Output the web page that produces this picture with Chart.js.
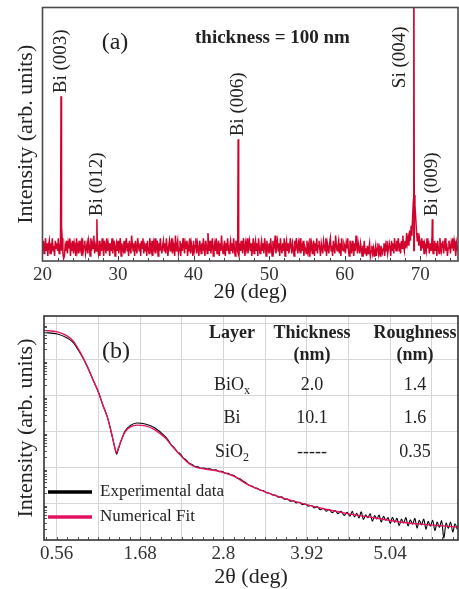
<!DOCTYPE html>
<html>
  <head>
    <title>Bi film XRD / XRR</title>
    <script src="https://cdn.jsdelivr.net/npm/chart.js"></script>
    <style>
      body { margin: 0; background: #fff; }
      #wrap { position: relative; width: 459px; height: 589px; }
      #xrdChart { position: absolute; left: 0; top: 0; }
      #xrrChart { position: absolute; left: 0; top: 303px; }
    </style>
  </head>
  <body>
    <div id="wrap">
      <canvas id="xrdChart" width="459" height="303"></canvas>
      <canvas id="xrrChart" width="459" height="286"></canvas>
    </div>

    <script type="text/javascript">
      // ---- panel (a): XRD, 2theta from 20 to 75 in 0.1 deg steps (one row per degree) ----
      const xrdStart = 20;
      const xrdStep = 0.1;
      const xrdCounts = [
        5, 8, 3, 6, 9, 4, 7, 2, 6, 8,
        3, 7, 5, 9, 4, 6, 2, 8, 5, 7,
        4, 9, 3, 6, 7, 13, 9, 3, 1, 2,
        6, 4, 8, 3, 7, 5, 9, 2, 6, 4,
        8, 3, 7, 5, 2, 9, 4, 6, 3, 8,
        5, 7, 2, 9, 4, 6, 8, 3, 5, 7,
        3, 8, 6, 2, 9, 4, 7, 5, 10, 3,
        6, 4, 7, 5, 3, 8, 2, 7, 4, 9,
        5, 2, 8, 6, 3, 9, 4, 7, 5, 2,
        7, 4, 9, 3, 6, 8, 2, 5, 7, 4,
        8, 3, 6, 9, 2, 7, 5, 4, 8, 3,
        6, 9, 4, 7, 2, 8, 5, 3, 10, 6,
        4, 7, 2, 8, 5, 3, 9, 6, 4, 7,
        2, 8, 5, 9, 3, 6, 4, 7, 2, 8,
        5, 3, 9, 6, 4, 8, 2, 7, 5, 9,
        3, 6, 8, 2, 7, 4, 9, 5, 3, 6,
        8, 4, 7, 3, 9, 5, 2, 6, 8, 4,
        6, 9, 3, 7, 5, 2, 10, 4, 6, 8,
        3, 5, 8, 2, 7, 4, 9, 6, 3, 7,
        5, 8, 2, 6, 4, 9, 3, 7, 5, 2,
        8, 4, 6, 9, 3, 7, 5, 2, 8, 6,
        3, 7, 4, 9, 5, 2, 8, 6, 3, 11,
        7, 4, 8, 3, 6, 9, 2, 5, 7, 4,
        9, 3, 6, 8, 2, 7, 4, 10, 5, 3,
        6, 8, 2, 7, 4, 9, 5, 3, 6, 8,
        4, 7, 3, 9, 5, 2, 8, 6, 4, 3,
        2, 7, 4, 8, 5, 3, 9, 6, 2, 7,
        5, 9, 3, 6, 8, 4, 7, 2, 5, 9,
        3, 6, 8, 4, 7, 2, 9, 5, 3, 6,
        8, 4, 7, 3, 9, 6, 2, 8, 5, 4,
        7, 3, 9, 5, 2, 8, 4, 6, 10, 3,
        6, 8, 4, 7, 2, 9, 5, 3, 7, 4,
        9, 2, 6, 8, 4, 7, 3, 5, 9, 6,
        3, 7, 5, 2, 8, 4, 9, 6, 3, 7,
        5, 9, 3, 7, 4, 8, 2, 6, 5, 3,
        8, 4, 6, 2, 9, 5, 7, 3, 6, 8,
        2, 7, 4, 9, 3, 6, 8, 5, 2, 7,
        5, 3, 8, 6, 4, 9, 2, 7, 5, 3,
        7, 9, 4, 6, 2, 8, 5, 3, 10, 6,
        4, 6, 8, 3, 7, 2, 9, 5, 4, 7,
        6, 3, 7, 5, 9, 4, 2, 8, 6, 3,
        8, 5, 2, 7, 4, 10, 6, 3, 7, 5,
        3, 7, 5, 2, 6, 4, 8, 3, 5, 2,
        6, 3, 5, 7, 2, 4, 6, 3, 5, 2,
        4, 6, 2, 5, 7, 3, 5, 2, 6, 4,
        3, 5, 7, 2, 6, 4, 8, 3, 5, 7,
        5, 2, 8, 4, 7, 3, 9, 6, 4, 8,
        6, 9, 4, 7, 3, 8, 5, 10, 6, 4,
        8, 5, 11, 7, 9, 6, 12, 8, 14, 10,
        18, 24, 26, 22, 17, 12, 8, 11, 6, 9,
        7, 4, 9, 5, 8, 3, 7, 6, 4, 9,
        5, 8, 3, 7, 4, 6, 9, 3, 5, 8,
        4, 7, 2, 8, 5, 3, 9, 6, 4, 7,
        8, 3, 6, 9, 4, 7, 2, 5, 8, 6,
        3, 7, 5, 9, 4, 8, 6, 2, 7, 5,
        6
      ];
      const xrdPeakAngle = [22.45, 27.2, 45.9, 69.15, 71.6];
      const xrdPeakHeight = [65, 16.5, 48, 140, 16.5];
      const xrdPeakNames = ["Bi (003)", "Bi (012)", "Bi (006)", "Si (004)", "Bi (009)"];
      const xrdTicks = [20, 30, 40, 50, 60, 70];

      // ---- panel (b): XRR, log10 of intensity ----
      const xrrFitAngle = [0.39, 0.57, 0.70, 0.78, 0.875, 0.97, 1.05, 1.12, 1.18, 1.24,
        1.28, 1.32, 1.345, 1.365, 1.39, 1.43, 1.48, 1.55, 1.64, 1.75,
        1.88, 2.02, 2.11, 2.22, 2.31, 2.42, 2.55, 2.69, 2.82, 2.96,
        3.09, 3.29, 3.56, 3.83, 4.16, 4.50, 4.84, 5.17, 5.57, 5.95];
      const xrrFitLog = [5.82, 5.78, 5.67, 5.53, 5.22, 4.83, 4.44, 4.11, 3.75, 3.42,
        3.11, 2.75, 2.53, 2.42, 2.56, 2.78, 3.00, 3.14, 3.19, 3.17,
        3.06, 2.83, 2.61, 2.36, 2.17, 2.03, 1.97, 1.93, 1.86, 1.75,
        1.58, 1.39, 1.19, 1.03, 0.86, 0.72, 0.61, 0.50, 0.42, 0.36];

      const xrrExpAngle = [0.39, 0.57, 0.70, 0.78, 0.875, 0.97, 1.05, 1.12, 1.18, 1.24,
        1.28, 1.32, 1.345, 1.365, 1.39, 1.43, 1.48, 1.55, 1.64, 1.75, 1.88, 2.02,
        2.06, 2.10, 2.14, 2.18, 2.22, 2.26, 2.30, 2.34, 2.38, 2.42, 2.46, 2.50,
        2.54, 2.58, 2.62, 2.66, 2.70, 2.74, 2.78, 2.82, 2.86, 2.90, 2.94, 2.98,
        3.02, 3.06, 3.10, 3.14, 3.18, 3.22, 3.26, 3.30, 3.34, 3.38, 3.42, 3.46,
        3.50, 3.54, 3.58, 3.62, 3.66, 3.70, 3.74, 3.78, 3.82, 3.86, 3.90, 3.94,
        3.98, 4.02, 4.06, 4.10, 4.14, 4.18, 4.22, 4.26, 4.30, 4.34, 4.38, 4.42,
        4.46, 4.50, 4.53, 4.56, 4.59, 4.62, 4.65, 4.68, 4.71, 4.74, 4.77, 4.80,
        4.83, 4.86, 4.89, 4.92, 4.95, 4.98, 5.01, 5.04, 5.07, 5.10, 5.13, 5.16,
        5.19, 5.22, 5.25, 5.28, 5.31, 5.34, 5.37, 5.40, 5.43, 5.46, 5.49, 5.52,
        5.55, 5.58, 5.61, 5.64, 5.67, 5.70, 5.73, 5.76, 5.79, 5.82, 5.85, 5.88,
        5.91, 5.94];
      const xrrExpLog = [5.76, 5.72, 5.61, 5.49, 5.19, 4.82, 4.44, 4.11, 3.75, 3.42,
        3.11, 2.75, 2.53, 2.38, 2.53, 2.78, 3.03, 3.18, 3.25, 3.22, 3.11, 2.87,
        2.77, 2.64, 2.56, 2.45, 2.39, 2.28, 2.22, 2.13, 2.10, 2.04, 2.03, 1.99,
        2.00, 1.97, 1.98, 1.94, 1.95, 1.90, 1.91, 1.86, 1.85, 1.81, 1.79, 1.73,
        1.70, 1.64, 1.59, 1.52, 1.50, 1.45, 1.43, 1.38, 1.37, 1.31, 1.30, 1.25,
        1.24, 1.19, 1.20, 1.13, 1.14, 1.08, 1.09, 1.03, 1.05, 0.98, 1.00, 0.94,
        0.96, 0.89, 0.93, 0.84, 0.88, 0.80, 0.85, 0.76, 0.82, 0.73, 0.80, 0.68,
        0.77, 0.66, 0.80, 0.64, 0.74, 0.61, 0.78, 0.57, 0.70, 0.62, 0.73, 0.52,
        0.68, 0.58, 0.69, 0.50, 0.66, 0.55, 0.62, 0.46, 0.63, 0.49, 0.60, 0.40,
        0.58, 0.47, 0.62, 0.39, 0.56, 0.44, 0.60, 0.33, 0.55, 0.42, 0.58, 0.30,
        0.52, 0.38, 0.55, 0.26, 0.50, 0.35, 0.54, 0.05, 0.48, 0.32, 0.50, 0.22,
        0.45, 0.30];

      const xrrTickValues = [0.56, 1.12, 1.68, 2.24, 2.8, 3.36, 3.92, 4.48, 5.04, 5.6];
      const xrrTickLabels = ["0.56", "", "1.68", "", "2.8", "", "3.92", "", "5.04", ""];
      const xrrDecades = [1, 2, 3, 4, 5, 6];

      const tableHeader = ["Layer", "Thickness", "Roughness"];
      const tableUnits = ["", "(nm)", "(nm)"];
      const tableLayer = [["BiO", "x"], ["Bi", ""], ["SiO", "2"]];
      const tableThickness = ["2.0", "10.1", "-----"];
      const tableRoughness = ["1.4", "1.6", "0.35"];

      const serif = "'Liberation Serif', 'DejaVu Serif', serif";
      const red = "#d2022c";
      const pink = "#e3125f";

      // ---- build panel (a) ----
      const xrdPoints = xrdCounts.map((c, i) => ({ x: xrdStart + i * xrdStep, y: c }));
      const peakPoints = [];
      xrdPeakAngle.forEach((a, i) => {
        peakPoints.push({ x: a - 0.07, y: 4 }, { x: a, y: xrdPeakHeight[i] }, { x: a + 0.07, y: 4 }, { x: a + 0.07, y: null });
      });
      const labelDx = [0.5, 0, 0, -14, 0];

      const xrdDecor = {
        id: "xrdDecor",
        afterDraw(chart) {
          const { ctx, chartArea: a, scales: { x, y } } = chart;
          ctx.save();
          ctx.strokeStyle = "#444";
          ctx.lineWidth = 1;
          for (let v = 22; v < 75; v += 2) {
            const px = Math.round(x.getPixelForValue(v)) + 0.5;
            const len = v % 10 === 0 ? 5 : 3;
            ctx.beginPath();
            ctx.moveTo(px, a.bottom);
            ctx.lineTo(px, a.bottom - len);
            ctx.stroke();
          }
          ctx.strokeStyle = "#4a4a4a";
          ctx.lineWidth = 1.6;
          ctx.strokeRect(a.left, a.top, a.right - a.left, a.bottom - a.top);

          ctx.fillStyle = "#222";
          ctx.font = "24px " + serif;
          ctx.textAlign = "center";
          ctx.textBaseline = "middle";
          ctx.fillText("(a)", 115, 43);
          ctx.font = "bold 19px " + serif;
          ctx.textAlign = "left";
          ctx.fillText("thickness = 100 nm", 195, 38);

          ctx.font = "19px " + serif;
          xrdPeakNames.forEach((name, i) => {
            const px = x.getPixelForValue(xrdPeakAngle[i]) + labelDx[i];
            const py = y.getPixelForValue(Math.min(xrdPeakHeight[i], 67)) - 3;
            ctx.save();
            ctx.translate(px, py);
            ctx.rotate(-Math.PI / 2);
            ctx.textAlign = "left";
            ctx.textBaseline = "middle";
            ctx.fillText(name, 0, 0);
            ctx.restore();
          });
          ctx.restore();
        }
      };

      new Chart(document.getElementById("xrdChart"), {
        type: "line",
        data: {
          datasets: [
            { data: xrdPoints, borderColor: red, borderWidth: 1.5, pointRadius: 0, tension: 0 },
            { data: peakPoints, borderColor: red, borderWidth: 1.5, pointRadius: 0, tension: 0, spanGaps: false }
          ]
        },
        options: {
          responsive: false,
          animation: false,
          layout: { padding: { top: 7.5, right: 1, left: 0, bottom: 0 } },
          plugins: { legend: { display: false }, tooltip: { enabled: false } },
          scales: {
            x: {
              type: "linear",
              min: 20,
              max: 75,
              afterBuildTicks: (s) => { s.ticks = xrdTicks.map((v) => ({ value: v })); },
              afterFit: (s) => { s.height = 42; },
              grid: { display: false, drawTicks: false },
              border: { display: false },
              ticks: { font: { family: serif, size: 19 }, color: "#333", padding: 3, maxRotation: 0, autoSkip: false },
              title: { display: true, text: "2θ (deg)", color: "#222", font: { family: serif, size: 22, lineHeight: 1 }, padding: { top: 0, bottom: 0 } }
            },
            y: {
              min: 0,
              max: 100,
              afterFit: (s) => { s.width = 42.5; },
              grid: { display: false, drawTicks: false },
              border: { display: false },
              ticks: { display: false },
              title: { display: true, text: "Intensity (arb. units)", color: "#222", font: { family: serif, size: 22, lineHeight: 1 }, padding: { top: 15, bottom: 0 } }
            }
          }
        },
        plugins: [xrdDecor]
      });

      // ---- build panel (b) ----
      const fitPoints = xrrFitAngle.map((a, i) => ({ x: a, y: xrrFitLog[i] }));
      const expPoints = xrrExpAngle.map((a, i) => ({ x: a, y: xrrExpLog[i] }));

      function subText(ctx, base, sub, cx, cy) {
        ctx.font = "18px " + serif;
        const wb = ctx.measureText(base).width;
        ctx.font = "12px " + serif;
        const ws = sub ? ctx.measureText(sub).width : 0;
        const x0 = cx - (wb + ws) / 2;
        ctx.textAlign = "left";
        ctx.font = "18px " + serif;
        ctx.fillText(base, x0, cy);
        if (sub) {
          ctx.font = "12px " + serif;
          ctx.fillText(sub, x0 + wb, cy + 6);
        }
      }

      const xrrDecor = {
        id: "xrrDecor",
        afterDraw(chart) {
          const { ctx, chartArea: a, scales: { x, y } } = chart;
          ctx.save();
          ctx.strokeStyle = "#555";
          ctx.lineWidth = 1;
          for (let k = 3; k <= 42; k++) {
            const px = Math.round(x.getPixelForValue(k * 0.14)) + 0.5;
            if (px <= a.left || px >= a.right) continue;
            ctx.beginPath();
            ctx.moveTo(px, a.bottom);
            ctx.lineTo(px, a.bottom - 3);
            ctx.stroke();
          }
          for (let d = 0; d <= 6; d++) {
            for (let m = 2; m <= 9; m++) {
              const v = d + Math.log10(m);
              if (v > y.max) continue;
              const py = Math.round(y.getPixelForValue(v)) + 0.5;
              ctx.beginPath();
              ctx.moveTo(a.left, py);
              ctx.lineTo(a.left + 3, py);
              ctx.stroke();
            }
          }
          ctx.strokeStyle = "#333";
          ctx.lineWidth = 1.6;
          ctx.strokeRect(a.left, a.top, a.right - a.left, a.bottom - a.top);

          ctx.fillStyle = "#222";
          ctx.textBaseline = "middle";
          ctx.textAlign = "center";
          ctx.font = "24px " + serif;
          ctx.fillText("(b)", 116, 49);

          const colX = [232, 312, 415];
          ctx.font = "bold 18px " + serif;
          tableHeader.forEach((h, i) => {
            ctx.fillText(h, colX[i], 30);
            if (tableUnits[i]) ctx.fillText(tableUnits[i], colX[i], 52);
          });
          const rowY = [82, 115, 149];
          tableLayer.forEach((l, r) => {
            ctx.fillStyle = "#222";
            subText(ctx, l[0], l[1], colX[0], rowY[r]);
            ctx.textAlign = "center";
            ctx.font = "18px " + serif;
            ctx.fillText(tableThickness[r], colX[1], rowY[r]);
            ctx.fillText(tableRoughness[r], colX[2], rowY[r]);
          });

          // legend
          const items = [["Experimental data", "#000", 189], ["Numerical Fit", pink, 214]];
          items.forEach(([txt, col, ly]) => {
            ctx.strokeStyle = col;
            ctx.lineWidth = 3.4;
            ctx.beginPath();
            ctx.moveTo(48, ly);
            ctx.lineTo(92, ly);
            ctx.stroke();
            ctx.fillStyle = "#222";
            ctx.font = "17px " + serif;
            ctx.textAlign = "left";
            ctx.fillText(txt, 100, ly);
          });
          ctx.restore();
        }
      };

      new Chart(document.getElementById("xrrChart"), {
        type: "line",
        data: {
          datasets: [
            { label: "Numerical Fit", data: fitPoints, borderColor: pink, borderWidth: 1.4, pointRadius: 0, cubicInterpolationMode: "monotone", order: 0 },
            { label: "Experimental data", data: expPoints, borderColor: "#000", borderWidth: 1.1, pointRadius: 0, cubicInterpolationMode: "monotone", order: 1 }
          ]
        },
        options: {
          responsive: false,
          animation: false,
          layout: { padding: { top: 13, right: 1, left: 0, bottom: 0 } },
          plugins: { legend: { display: false }, tooltip: { enabled: false } },
          scales: {
            x: {
              type: "linear",
              min: 0.39,
              max: 5.95,
              afterBuildTicks: (s) => { s.ticks = xrrTickValues.map((v) => ({ value: v })); },
              afterFit: (s) => { s.height = 49; },
              grid: { color: "#d6d6d6", lineWidth: 1, drawTicks: false },
              border: { display: false },
              ticks: {
                font: { family: serif, size: 19 },
                color: "#333",
                padding: 3,
                maxRotation: 0,
                autoSkip: false,
                callback: (v, i) => xrrTickLabels[i]
              },
              title: { display: true, text: "2θ (deg)", color: "#222", font: { family: serif, size: 22, lineHeight: 1 }, padding: { top: 0, bottom: 1 } }
            },
            y: {
              min: 0,
              max: 6.22,
              afterBuildTicks: (s) => { s.ticks = xrrDecades.map((v) => ({ value: v })); },
              afterFit: (s) => { s.width = 44; },
              grid: { color: "#d6d6d6", lineWidth: 1, drawTicks: false },
              border: { display: false },
              ticks: { display: false },
              title: { display: true, text: "Intensity (arb. units)", color: "#222", font: { family: serif, size: 22, lineHeight: 1 }, padding: { top: 15, bottom: 0 } }
            }
          }
        },
        plugins: [xrrDecor]
      });
    </script>
  </body>
</html>
